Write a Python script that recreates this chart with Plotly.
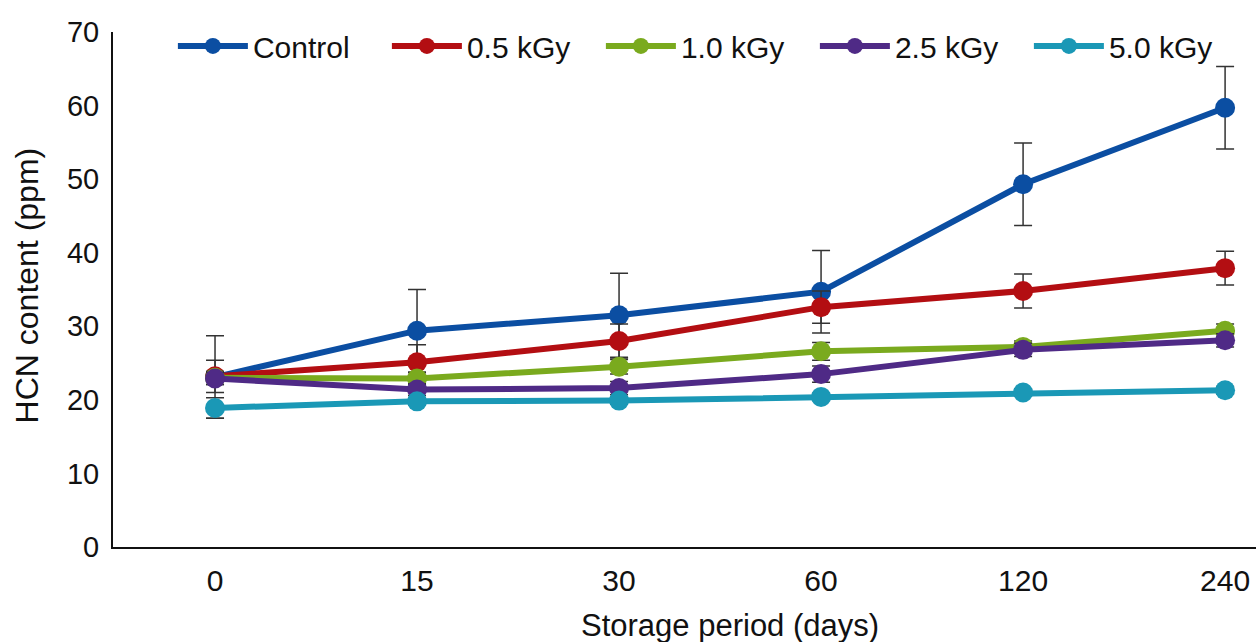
import plotly.graph_objects as go

days = ["0", "15", "30", "60", "120", "240"]
series_names = ["Control", "0.5 kGy", "1.0 kGy", "2.5 kGy", "5.0 kGy"]
control = [23.1, 29.4, 31.5, 34.7, 49.3, 59.7]
kgy05 = [23.2, 25.1, 28.0, 32.6, 34.8, 37.9]
kgy10 = [23.0, 22.9, 24.5, 26.6, 27.2, 29.4]
kgy25 = [22.9, 21.4, 21.6, 23.5, 26.8, 28.1]
kgy50 = [18.9, 19.8, 19.9, 20.4, 21.0, 21.3]
control_err = [5.6, 5.6, 5.7, 5.6, 5.6, 5.6]
kgy05_err = [2.2, 2.4, 2.3, 2.2, 2.3, 2.3]
kgy10_err = [0.9, 0.8, 1.0, 1.2, 0.8, 0.9]
kgy25_err = [0.8, 0.8, 0.9, 1.1, 0.9, 0.9]
kgy50_err = [1.4, 0.5, 0.5, 0.5, 0.5, 0.5]

values = [control, kgy05, kgy10, kgy25, kgy50]
errors = [control_err, kgy05_err, kgy10_err, kgy25_err, kgy50_err]
colors = ["#0B4EA2", "#B30E12", "#7AAA1E", "#4F2A86", "#1A98B6"]

FONT = "Liberation Sans, Arial"

fig = go.Figure()
for name, v, e, c in zip(series_names, values, errors, colors):
    fig.add_trace(go.Scatter(
        x=days, y=v, name=name, mode="lines+markers",
        line=dict(color=c, width=6),
        marker=dict(color=c, size=20),
        error_y=dict(type="data", array=e, visible=True, color="#333333",
                     thickness=1.5, width=9),
    ))

fig.update_layout(
    width=1256, height=642,
    margin=dict(l=113, r=0, t=32, b=95),
    paper_bgcolor="white", plot_bgcolor="white",
    showlegend=True,
    legend=dict(orientation="h", x=0.0524, y=0.973, xanchor="left", yanchor="middle",
                bgcolor="rgba(0,0,0,0)", itemwidth=70,
                entrywidth=129, entrywidthmode="pixels",
                font=dict(family=FONT, size=30, color="#111111")),
    xaxis=dict(type="category", range=[-0.505, 5.153], showgrid=False, zeroline=False,
               showline=True, linecolor="#111111", linewidth=2, ticks="",
               ticklabelstandoff=6,
               tickfont=dict(family=FONT, size=30, color="#111111")),
    yaxis=dict(range=[0, 70], dtick=10, showgrid=False, zeroline=False,
               showline=True, linecolor="#111111", linewidth=2, ticks="",
               ticklabelstandoff=6,
               tickfont=dict(family=FONT, size=29, color="#111111")),
    annotations=[
        dict(text="Storage period (days)", xref="paper", yref="paper",
             x=0.54, y=-0.1515, xanchor="center", yanchor="middle", showarrow=False,
             font=dict(family=FONT, size=31, color="#111111")),
        dict(text="HCN content (ppm)", xref="paper", yref="paper", textangle=-90,
             x=-0.0752, y=0.508, xanchor="center", yanchor="middle", showarrow=False,
             font=dict(family=FONT, size=32, color="#111111")),
    ],
)

fig.write_html("out.html")
